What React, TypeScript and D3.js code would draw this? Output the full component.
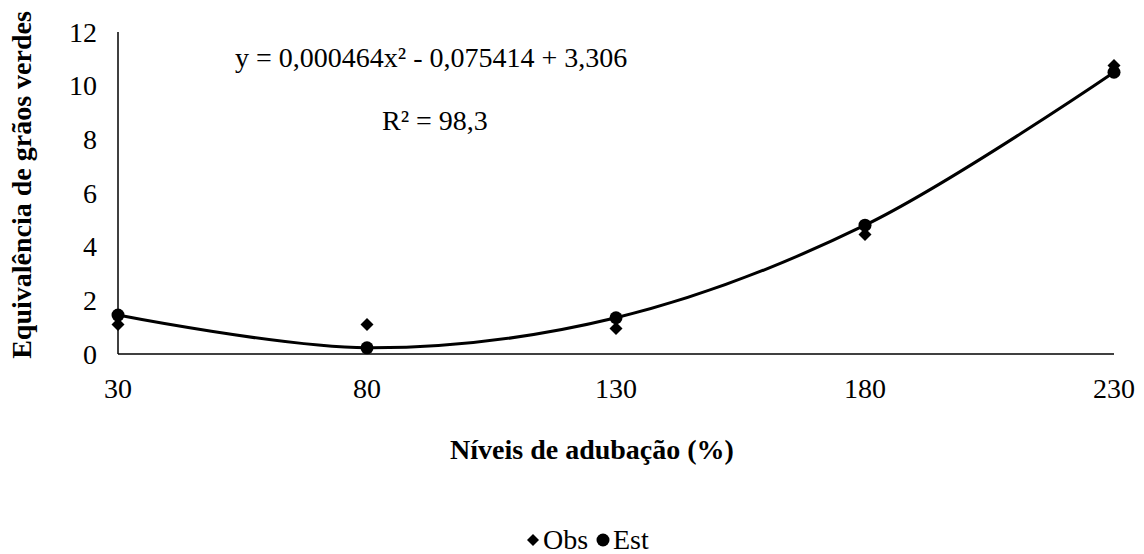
import * as d3 from "d3";

const levels = [30, 80, 130, 180, 230];
const obsValues = [1.1, 1.1, 0.95, 4.45, 10.75];
const estValues = [1.45, 0.23, 1.35, 4.8, 10.5];
const yTicks = [0, 2, 4, 6, 8, 10, 12];
const xTicks = [30, 80, 130, 180, 230];

const W = 1144;
const H = 554;
const margin = { top: 32, right: 30, bottom: 200, left: 118 };

// square turned 45deg, like the Excel marker
const diamondPath = (r: number) => `M0,${-r}L${r},0L0,${r}L${-r},0Z`;

export default function App() {
  const x = d3.scaleLinear().domain([30, 230]).range([margin.left, W - margin.right]);
  const y = d3.scaleLinear().domain([0, 12]).range([H - margin.bottom, margin.top]);

  const estPts = levels.map((l, i) => ({ l, v: estValues[i] }));
  const obsPts = levels.map((l, i) => ({ l, v: obsValues[i] }));

  const line = d3
    .line<{ l: number; v: number }>()
    .x((d) => x(d.l))
    .y((d) => y(d.v))
    .curve(d3.curveCatmullRom.alpha(0.5));

  const font = "'Liberation Serif', 'Times New Roman', serif";
  const fs = 28;

  return (
    <svg
      width={W}
      height={H}
      style={{ position: "absolute", left: 0, top: 0, background: "white" }}
      fontFamily={font}
    >
      {/* axes */}
      <line x1={x(30)} x2={x(30)} y1={y(12)} y2={y(0)} stroke="black" strokeWidth={1.5} />
      <line x1={x(30)} x2={x(230)} y1={y(0)} y2={y(0)} stroke="black" strokeWidth={1.5} />

      {yTicks.map((t) => (
        <text key={"y" + t} x={97} y={y(t)} dy="0.35em" textAnchor="end" fontSize={fs}>
          {t}
        </text>
      ))}
      {xTicks.map((t) => (
        <text key={"x" + t} x={x(t)} y={398} textAnchor="middle" fontSize={fs}>
          {t}
        </text>
      ))}

      <text
        transform={`translate(31, 185) rotate(-90)`}
        textAnchor="middle"
        fontSize={fs}
        fontWeight="bold"
      >
        Equivalência de grãos verdes
      </text>
      <text x={592} y={459} textAnchor="middle" fontSize={fs} fontWeight="bold">
        Níveis de adubação (%)
      </text>

      {/* fitted curve */}
      <path d={line(estPts) ?? ""} fill="none" stroke="black" strokeWidth={3} />

      {obsPts.map((d, i) => (
        <path key={"o" + i} d={diamondPath(6.5)} transform={`translate(${x(d.l)},${y(d.v)})`} fill="black" />
      ))}
      {estPts.map((d, i) => (
        <circle key={"e" + i} cx={x(d.l)} cy={y(d.v)} r={6.5} fill="black" />
      ))}

      <text x={235} y={67} fontSize={fs}>
        y = 0,000464x² - 0,075414 + 3,306
      </text>
      <text x={382} y={130} fontSize={fs}>
        R² = 98,3
      </text>

      {/* legend */}
      <path d={diamondPath(6)} transform="translate(533,540)" fill="black" />
      <text x={543} y={549} fontSize={fs}>Obs</text>
      <circle cx={603} cy={540} r={6.5} fill="black" />
      <text x={613} y={549} fontSize={fs}>Est</text>
    </svg>
  );
}
